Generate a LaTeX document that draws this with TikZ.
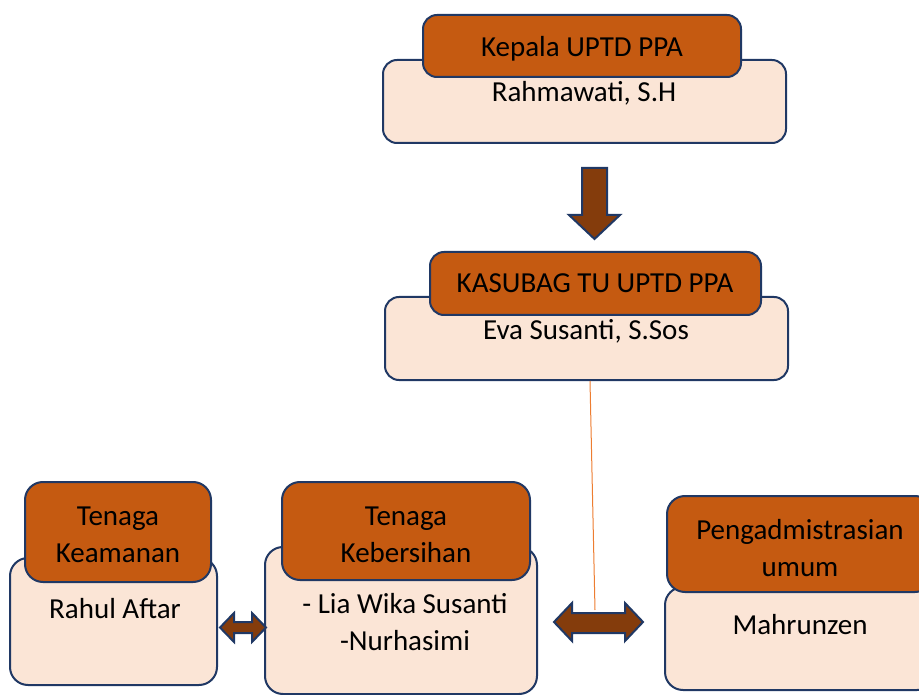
\documentclass[tikz,border=0pt]{standalone}
\usepackage{fontspec}
\setmainfont{Carlito}
\definecolor{dk}{HTML}{C55A11}
\definecolor{lt}{HTML}{FBE5D6}
\definecolor{bd}{HTML}{203864}
\definecolor{ar}{HTML}{843C0C}
\definecolor{ln}{HTML}{ED7D31}
\begin{document}
\begin{tikzpicture}[x=1pt,y=-1pt,
 lightbox/.style={draw=bd, fill=lt, line width=2pt, rounded corners=14pt, inner sep=0pt},
 darkbox/.style={draw=bd, fill=dk, line width=2pt, rounded corners=14pt, inner sep=0pt},
 txt/.style={font=\fontsize{29}{37}\selectfont, text=black, align=center, inner sep=0pt, anchor=base},
 blk/.style={draw=bd, fill=ar, line width=2pt, line join=miter}]
\useasboundingbox (0,0) rectangle (919,695);
% box 1
\node[lightbox, minimum width=403pt, minimum height=83pt] (k1b) at (584.5,101.5) {};
\node[darkbox, minimum width=318pt, minimum height=62pt] (k1t) at (582,46) {};
\node[txt] (k1tt) at (582,57) {Kepala UPTD PPA};
\node[txt] (k1bt) at (584,102) {Rahmawati, S.H};
% box 2
\node[lightbox, minimum width=403pt, minimum height=83pt] (k2b) at (586.5,338.5) {};
\node[darkbox, minimum width=331pt, minimum height=63pt] (k2t) at (595.5,283.5) {};
\node[txt] (k2tt) at (595,293) {KASUBAG TU UPTD PPA};
\node[txt] (k2bt) at (586,340) {Eva Susanti, S.Sos};
% down arrow
\coordinate (da) at (594.5,168);
\path[blk] (da) ++(-12.5,0) -- ++(25,0) -- ++(0,47) -- ++(13,0) -- ++(-25.5,24) -- ++(-25.5,-24) -- ++(13,0) -- cycle;
% line
\coordinate (lnend) at (595,610);
\draw[ln, line width=1pt] (590,381) -- (lnend);
% box 3
\node[lightbox, rounded corners=18pt, minimum width=207pt, minimum height=127pt] (k3b) at (113.5,621.5) {};
\node[darkbox, rounded corners=18pt, minimum width=186pt, minimum height=100pt] (k3t) at (118,532) {};
\node[txt] (k3tt) at (118,562) {Tenaga\\Keamanan};
\node[txt] (k3bt) at (115,618) {Rahul Aftar};
% box 4
\node[lightbox, rounded corners=18pt, minimum width=272pt, minimum height=147pt] (k4b) at (401,620.5) {};
\node[darkbox, rounded corners=18pt, minimum width=248pt, minimum height=98pt] (k4t) at (406,531) {};
\node[txt] (k4tt) at (406,562) {Tenaga\\Kebersihan};
\node[txt] (k4bt) at (405,650) {- Lia Wika Susanti\\-Nurhasimi};
% box 5
\node[lightbox, rounded corners=18pt, minimum width=270pt, minimum height=103pt] (k5b) at (800,638.5) {};
\node[darkbox, rounded corners=18pt, minimum width=266pt, minimum height=96pt] (k5t) at (800,544) {};
\node[txt] (k5tt) at (800,576) {Pengadmistrasian\\umum};
\node[txt] (k5bt) at (800,634) {Mahrunzen};
% left double arrow
\path[blk] (220,627.5) -- (234,613) -- (234,622) -- (252,622) -- (252,613) -- (266,627.5) -- (252,642) -- (252,633) -- (234,633) -- (234,642) -- cycle;
% right double arrow
\path[blk] (554,622) -- (572,603) -- (572,613) -- (625,613) -- (625,603) -- (643,622) -- (625,641) -- (625,633) -- (572,633) -- (572,641) -- cycle;
\end{tikzpicture}
\end{document}
